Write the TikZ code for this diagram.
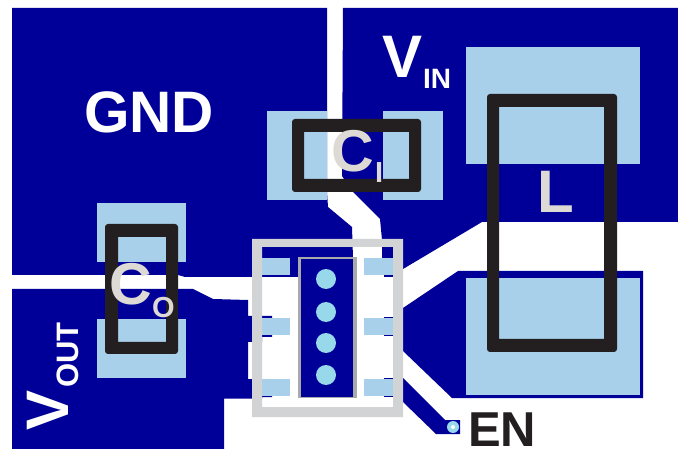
\documentclass[tikz,border=0pt]{standalone}
\usepackage{fontspec}
\setmainfont{Liberation Sans}
\definecolor{cu}{HTML}{000099}
\definecolor{pad}{HTML}{A8D0EA}
\definecolor{via}{HTML}{97D8EA}
\definecolor{silk}{HTML}{D1D3D4}
\definecolor{ink}{HTML}{231F20}
\definecolor{ref}{HTML}{DDDAD6}
\tikzset{
  copper/.style={fill=cu},
  padarea/.style={fill=pad},
  bodybox/.style={fill=ink,even odd rule,rounded corners=3pt},
  lbl/.style={inner sep=0pt,anchor=base west,font=\bfseries\fontsize{#1}{#1}\selectfont},
}
\begin{document}
\begin{tikzpicture}[x=1pt,y=-1pt]
\useasboundingbox (0,0) rectangle (678,449);
\fill[white] (0,0) rectangle (678,449);
% copper pours
\fill[copper] (12,8) -- (327,8) -- (327,192) -- (328,207) -- (352,227) -- (353,258) -- (298,258) -- (298,277) -- (185,277) -- (178,275) -- (12,275) -- cycle;
\fill[copper] (343,8) -- (678,8) -- (678,222) -- (482,222) -- (403,269) -- (403,262) -- (382,258) -- (382,240) -- (380,219) -- (353,192) -- (342,176) -- cycle;
\fill[copper] (12,289) -- (193,289) -- (213,299) -- (248,300) -- (248,316) -- (272,316) -- (272,337) -- (262,337) -- (262,342) -- (248,342) -- (248,379) -- (272,379) -- (272,397) -- (262,397) -- (262,398.5) -- (224,398.5) -- (224,449) -- (12,449) -- cycle;
\fill[copper] (458,271) -- (643,271) -- (643,398) -- (452,398) -- (403,351) -- (403,308) -- cycle;
\fill[copper] (403,378) -- (445,420) -- (460,420) -- (460,434) -- (436,434) -- (403,402) -- cycle;
% pad tips inside the package
\fill[copper] (384,257) rectangle (393,277);
\fill[copper] (384,317) rectangle (403,336.5);
\fill[copper] (384,378) rectangle (403,397);
% via at EN
\fill[via] (453,427) circle (6);
\fill[white] (453,427) circle (2);
% pads
\fill[padarea] (97,203) rectangle (186,262);
\fill[padarea] (97,319) rectangle (186,378);
\fill[padarea] (267,111) rectangle (327,200);
\fill[padarea] (383,111) rectangle (443,200);
\fill[padarea] (466,47) rectangle (640,164);
\fill[padarea] (466,278) rectangle (640,395);
\fill[padarea] (262,258) rectangle (290,275);
\fill[padarea] (262,318) rectangle (290,335);
\fill[padarea] (262,379) rectangle (290,396);
\fill[padarea] (364,258) rectangle (393,275);
\fill[padarea] (364,318) rectangle (393,335);
\fill[padarea] (364,379) rectangle (393,396);
% exposed pad
\fill[silk!80!black] (298,257) rectangle (357,397.5);
\fill[copper] (301,259) rectangle (353,397);
\foreach \y in {279,312,343,375} \fill[via] (326,\y) circle (10);
% package outline
\fill[silk,even odd rule] (252,239) rectangle (403,417) (262,247) rectangle (393,407);
% component bodies
\fill[bodybox] (105,224) rectangle (178,354) [sharp corners] (118,237) rectangle (166,342);
\fill[bodybox] (292,119) rectangle (421,192) [sharp corners] (304,132) rectangle (409,179);
\fill[bodybox] (487,94) rectangle (617,352) [sharp corners] (499,107) rectangle (604,339);
% labels
\node[lbl=58.5,text=white] (gnd) at (84,133) {GND};
\node[lbl=60,text=white] (vin) at (382,78) {V};
\node[lbl=28,text=white] (vinsub) at (423,89) {IN};
\node[lbl=60,text=white,rotate=90] (vout) at (68,431) {V};
\node[lbl=31,text=white,rotate=90] (voutsub) at (78,388) {OUT};
\node[lbl=59,text=ref] (co) at (109,305) {C};
\node[lbl=29,text=ref] (cosub) at (152,318) {O};
\node[lbl=59,text=ref] (ci) at (331,172) {C};
\node[lbl=29,text=ref] (cisub) at (375,183) {I};
\node[lbl=60,text=ref] (l) at (537,213) {L};
\node[lbl=49,text=ink] (en) at (468,446) {EN};
\end{tikzpicture}
\end{document}
